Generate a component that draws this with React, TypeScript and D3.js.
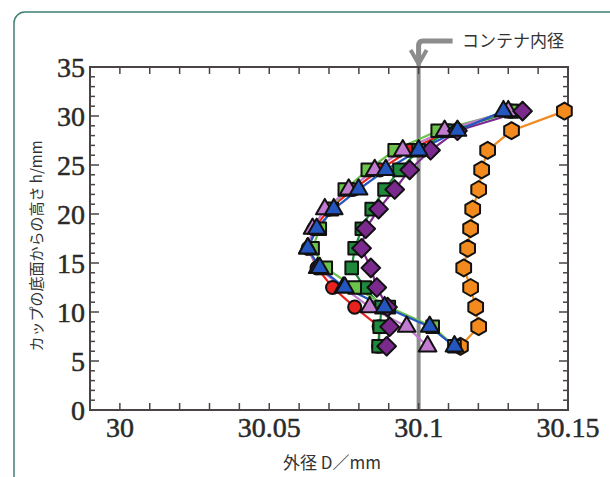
import React, { useEffect, useRef } from 'react';
import * as d3 from 'd3';

// heights from cup bottom (mm)
const heights = [6.5, 8.5, 10.5, 12.5, 14.5, 16.5, 18.5, 20.5, 22.5, 24.5, 26.5, 28.5, 30.5];

// outer diameter (mm) per series, bottom to top
const orangeD = [30.114, 30.1201, 30.1191, 30.1174, 30.1151, 30.1164, 30.1174, 30.1181, 30.1201, 30.1211, 30.1231, 30.1311, 30.1488];
const redD = [30.0866, 30.0868, 30.0786, 30.0712, 30.066, 30.063, 30.065, 30.07, 30.078, 30.087, 30.097, 30.11, 30.131];
const darkGreenD = [30.0866, 30.087, 30.0876, 30.082, 30.0776, 30.0786, 30.081, 30.0843, 30.0886, 30.0936, 30.1, 30.11, 30.132];
const limeD = [30.112, 30.1047, 30.09, 30.0786, 30.0689, 30.0645, 30.0669, 30.0709, 30.0753, 30.083, 30.092, 30.1064, 30.131];
const pinkD = [30.103, 30.096, 30.0836, 30.0748, 30.0662, 30.0629, 30.0645, 30.0686, 30.0766, 30.0853, 30.0947, 30.1087, 30.13];
const purpleD = [30.0893, 30.0903, 30.0896, 30.086, 30.084, 30.0809, 30.0823, 30.0866, 30.092, 30.097, 30.104, 30.113, 30.1348];
const blueD = [30.112, 30.1037, 30.0886, 30.0753, 30.0669, 30.0629, 30.0659, 30.0716, 30.0799, 30.089, 30.1, 30.113, 30.1284];

const xTickLabels = [30, 30.05, 30.1, 30.15];
const yTickLabels = [0, 5, 10, 15, 20, 25, 30, 35];
const containerD = 30.1;

const series = [
  { values: orangeD, color: '#f28a1e', shape: 'hex' },
  { values: redD, color: '#e8231f', shape: 'circle' },
  { values: darkGreenD, color: '#1f8a3c', shape: 'square' },
  { values: limeD, color: '#6cc24a', shape: 'square' },
  { values: pinkD, color: '#c27ccf', shape: 'triangle' },
  { values: purpleD, color: '#7a2a8c', shape: 'diamond' },
  { values: blueD, color: '#2456c0', shape: 'triangle' },
];

const W = 610, H = 477;

const App = () => {
  const ref = useRef<SVGSVGElement>(null);

  useEffect(() => {
    const svg = d3.select(ref.current);
    svg.selectAll('*').remove();

    const x = d3.scaleLinear().domain([29.99, 30.15]).range([90, 568]);
    const y = d3.scaleLinear().domain([0, 35]).range([410, 67]);

    svg.append('rect').attr('width', W).attr('height', H).attr('fill', '#fff');

    // outer frame
    svg.append('rect')
      .attr('x', 14).attr('y', 12).attr('width', 640).attr('height', 475).attr('rx', 11)
      .attr('fill', 'none').attr('stroke', '#3f8074').attr('stroke-width', 1.5);

    // container diameter line + arrow
    const cx = x(containerD);
    svg.append('line')
      .attr('x1', cx).attr('x2', cx).attr('y1', 44).attr('y2', y(0))
      .attr('stroke', '#8c8c8c').attr('stroke-width', 4);
    svg.append('path')
      .attr('d', `M${cx + 34},41 H${cx + 4} Q${cx},41 ${cx},46 V60`)
      .attr('fill', 'none').attr('stroke', '#8c8c8c').attr('stroke-width', 5);
    svg.append('path')
      .attr('d', `M${cx - 8},50 L${cx},64 L${cx + 8},50`)
      .attr('fill', 'none').attr('stroke', '#8c8c8c').attr('stroke-width', 4);
    svg.append('text')
      .attr('x', 462).attr('y', 47)
      .attr('font-family', '"Noto Sans CJK JP", sans-serif').attr('font-size', 17)
      .attr('fill', '#333')
      .text('コンテナ内径');

    // plot box
    const [x0, x1] = x.range();
    const [y0, y1] = y.range();
    svg.append('rect')
      .attr('x', x0).attr('y', y1).attr('width', x1 - x0).attr('height', y0 - y1)
      .attr('fill', 'none').attr('stroke', '#4a4444').attr('stroke-width', 2);

    const g = svg.append('g').attr('stroke', '#4a4444').attr('stroke-width', 1.5);
    d3.range(0, 17).map(i => 29.99 + i * 0.01).forEach(v => {
      g.append('line').attr('x1', x(v)).attr('x2', x(v)).attr('y1', y0).attr('y2', y0 - 7);
      g.append('line').attr('x1', x(v)).attr('x2', x(v)).attr('y1', y1).attr('y2', y1 + 7);
    });
    d3.range(0, 36).forEach(v => {
      const len = v % 5 === 0 ? 9 : 5;
      g.append('line').attr('x1', x0).attr('x2', x0 + len).attr('y1', y(v)).attr('y2', y(v));
      g.append('line').attr('x1', x1).attr('x2', x1 - len).attr('y1', y(v)).attr('y2', y(v));
    });

    svg.append('g').selectAll('text').data(xTickLabels).join('text')
      .attr('x', d => x(d)).attr('y', 437)
      .attr('text-anchor', 'middle')
      .attr('font-family', '"Liberation Serif", serif').attr('font-size', 28)
      .attr('fill', '#2a2a2a').attr('stroke', '#2a2a2a').attr('stroke-width', 0.5)
      .text(d => String(d));

    svg.append('g').selectAll('text').data(yTickLabels).join('text')
      .attr('x', 85).attr('y', d => y(d) + 10)
      .attr('text-anchor', 'end')
      .attr('font-family', '"Liberation Serif", serif').attr('font-size', 28)
      .attr('fill', '#2a2a2a').attr('stroke', '#2a2a2a').attr('stroke-width', 0.5)
      .text(d => String(d));

    // axis titles
    svg.append('text')
      .attr('x', 332).attr('y', 469).attr('text-anchor', 'middle')
      .attr('font-family', '"Noto Sans CJK JP", sans-serif').attr('font-size', 17)
      .attr('fill', '#333')
      .text('外径 D／mm');
    svg.append('text')
      .attr('transform', `translate(42,246) rotate(-90)`).attr('text-anchor', 'middle')
      .attr('font-family', '"Noto Sans CJK JP", sans-serif').attr('font-size', 15)
      .attr('fill', '#333')
      .text('カップの底面からの高さ h/mm');

    // lines
    const line = d3.line<number>().x(d => x(d)).y((d, i) => y(heights[i]));
    series.forEach(s => {
      svg.append('path').attr('d', line(s.values))
        .attr('fill', 'none').attr('stroke', s.color).attr('stroke-width', 2.2);
    });

    // markers
    const hexPath = (r: number) => d3.line()(d3.range(6).map(k => {
      const a = Math.PI / 6 + (k * Math.PI) / 3;
      return [r * Math.cos(a), r * Math.sin(a)] as [number, number];
    })) + 'Z';
    const shapePath = (shape: string) => {
      if (shape === 'hex') return hexPath(8.5);
      if (shape === 'circle') return d3.symbol().type(d3.symbolCircle).size(135)();
      if (shape === 'square') return d3.symbol().type(d3.symbolSquare).size(160)();
      if (shape === 'diamond') return d3.symbol().type(d3.symbolSquare).size(175)();
      return d3.symbol().type(d3.symbolTriangle).size(135)();
    };
    series.forEach(s => {
      svg.append('g').selectAll('path').data(s.values).join('path')
        .attr('d', shapePath(s.shape))
        .attr('transform', (d, i) => `translate(${x(d)},${y(heights[i])})${s.shape === 'diamond' ? ' rotate(45)' : ''}`)
        .attr('fill', s.color).attr('stroke', '#111').attr('stroke-width', 2)
        .attr('stroke-linejoin', 'round');
    });
  }, []);

  return (
    <svg ref={ref} width={W} height={H} style={{ position: 'absolute', left: 0, top: 0 }} />
  );
};

export default App;
